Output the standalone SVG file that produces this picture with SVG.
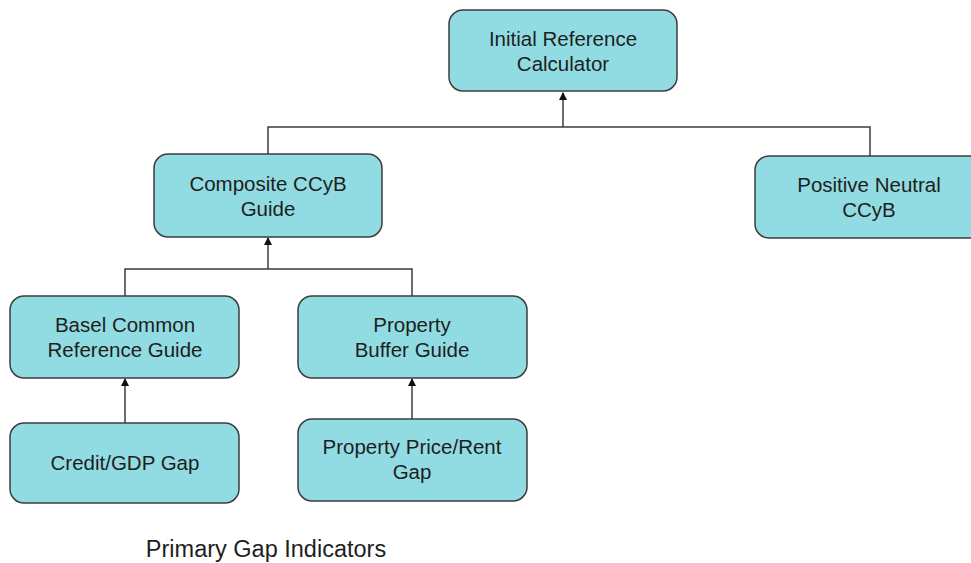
<svg xmlns="http://www.w3.org/2000/svg" width="971" height="563" viewBox="0 0 971 563">
<style>
.box{fill:#91dce2;stroke:#3d3d3d;stroke-width:1.5}
.t{font-family:"Liberation Sans",Arial,sans-serif;font-size:20.5px;fill:#1e1e1e;text-anchor:middle}
.c{stroke:#3d3d3d;stroke-width:1.5;fill:none}
</style>
<defs>
<marker id="ah" markerWidth="8" markerHeight="8" refX="7" refY="4" orient="auto" markerUnits="userSpaceOnUse">
<path d="M0,0 L8,4 L0,8 Z" fill="#111"/>
</marker>
</defs>
<rect width="971" height="563" fill="#fff"/>
<g id="connectors">
<path class="c" d="M563,127 V93" marker-end="url(#ah)"/>
<path class="c" d="M268,154 V127 H870 V156"/>
<path class="c" d="M268,269 V238" marker-end="url(#ah)"/>
<path class="c" d="M125,296 V269 H412 V296"/>
<path class="c" d="M125,423 V379" marker-end="url(#ah)"/>
<path class="c" d="M412,419 V379" marker-end="url(#ah)"/>
</g>
<g id="initial">
<rect class="box" x="449" y="10" width="228" height="81" rx="14"/>
<text class="t" x="563" y="46">Initial Reference</text>
<text class="t" x="563" y="71">Calculator</text>
</g>
<g id="composite">
<rect class="box" x="154" y="154" width="228" height="83" rx="14"/>
<text class="t" x="268" y="191">Composite CCyB</text>
<text class="t" x="268" y="216">Guide</text>
</g>
<g id="positive">
<rect class="box" x="755" y="156" width="230" height="82" rx="14"/>
<text class="t" x="869" y="192">Positive Neutral</text>
<text class="t" x="869" y="217">CCyB</text>
</g>
<g id="basel">
<rect class="box" x="10" y="296" width="229" height="82" rx="14"/>
<text class="t" x="125" y="332">Basel Common</text>
<text class="t" x="125" y="357">Reference Guide</text>
</g>
<g id="propbuffer">
<rect class="box" x="298" y="296" width="229" height="82" rx="14"/>
<text class="t" x="412" y="332">Property</text>
<text class="t" x="412" y="357">Buffer Guide</text>
</g>
<g id="credit">
<rect class="box" x="10" y="423" width="229" height="80" rx="14"/>
<text class="t" x="125" y="470">Credit/GDP Gap</text>
</g>
<g id="propprice">
<rect class="box" x="298" y="419" width="229" height="82" rx="14"/>
<text class="t" x="412" y="454">Property Price/Rent</text>
<text class="t" x="412" y="479">Gap</text>
</g>
<text class="t" x="266" y="557" style="font-size:23.5px">Primary Gap Indicators</text>
</svg>
